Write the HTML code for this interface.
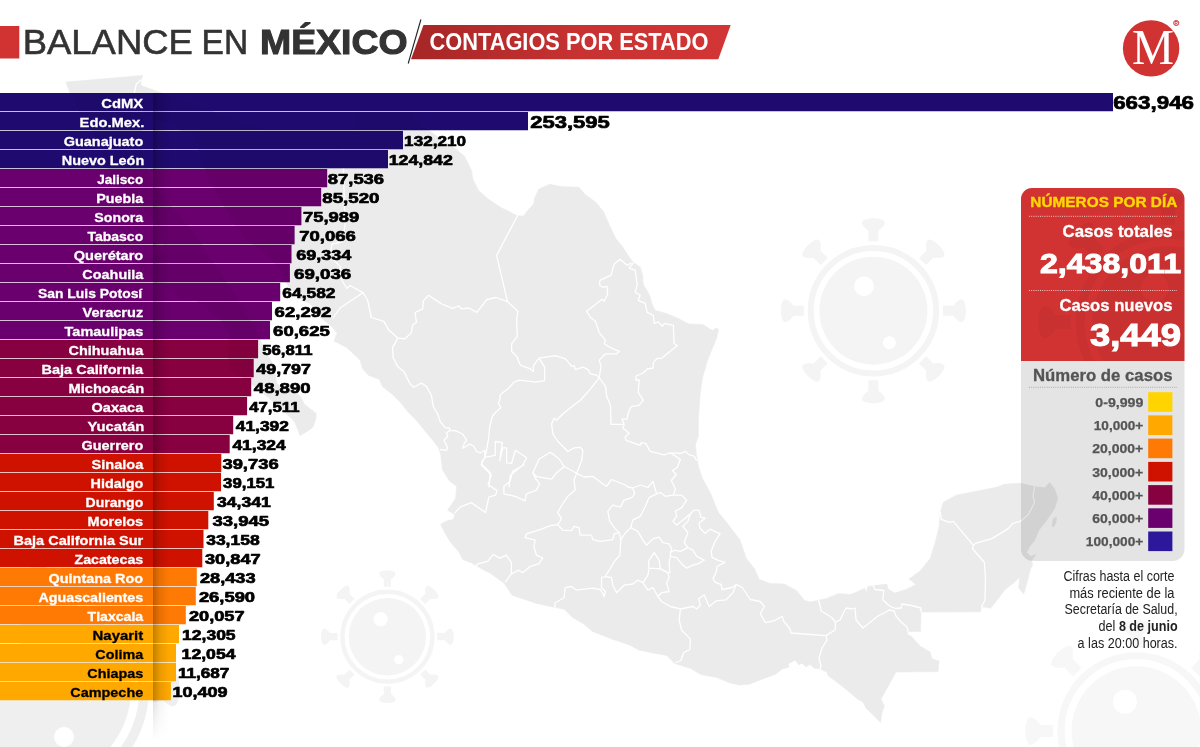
<!DOCTYPE html>
<html lang="es"><head><meta charset="utf-8"><title>Balance en México - Contagios por estado</title>
<style>html,body{margin:0;padding:0;background:#fff;}body{width:1200px;height:747px;overflow:hidden;}svg{display:block;}text{font-family:'Liberation Sans', Arial, sans-serif;}.lab{font-weight:700;font-size:13.6px;}.num{font-weight:700;font-size:15px;fill:#000;stroke:#000;stroke-width:.7px;stroke-linejoin:round;}</style></head><body>
<svg width="1200" height="747" viewBox="0 0 1200 747">
<defs>
<linearGradient id="gban" x1="0" x2="1" y1="0" y2="0"><stop offset="0" stop-color="#a62626"/><stop offset=".55" stop-color="#c93232"/><stop offset="1" stop-color="#d23535"/></linearGradient>
<linearGradient id="gsh" x1="0" x2="1" y1="0" y2="0"><stop offset="0" stop-color="#000" stop-opacity=".25"/><stop offset=".4" stop-color="#000" stop-opacity=".09"/><stop offset="1" stop-color="#000" stop-opacity="0"/></linearGradient>
<linearGradient id="gshv" x1="0" x2="0" y1="0" y2="1"><stop offset="0" stop-color="#fff"/><stop offset=".926" stop-color="#fff"/><stop offset=".927" stop-color="#777"/><stop offset=".985" stop-color="#000"/></linearGradient>
<mask id="mshv"><rect x="150" y="90" width="30" height="660" fill="url(#gshv)"/></mask>
<g id="virus">
<circle r="62.7" fill="none" stroke-width="6"/>
<g stroke="none">
<g transform="rotate(0)"><path d="M-5,-69.5 L-5,-80 C-8,-82 -11,-85 -11.5,-88 C-11.5,-91 -6,-92.5 0,-92.5 C6,-92.5 11.5,-91 11.5,-88 C11,-85 8,-82 5,-80 L5,-69.5 Z"/></g>
<g transform="rotate(45)"><path d="M-5,-69.5 L-5,-80 C-8,-82 -11,-85 -11.5,-88 C-11.5,-91 -6,-92.5 0,-92.5 C6,-92.5 11.5,-91 11.5,-88 C11,-85 8,-82 5,-80 L5,-69.5 Z"/></g>
<g transform="rotate(90)"><path d="M-5,-69.5 L-5,-80 C-8,-82 -11,-85 -11.5,-88 C-11.5,-91 -6,-92.5 0,-92.5 C6,-92.5 11.5,-91 11.5,-88 C11,-85 8,-82 5,-80 L5,-69.5 Z"/></g>
<g transform="rotate(135)"><path d="M-5,-69.5 L-5,-80 C-8,-82 -11,-85 -11.5,-88 C-11.5,-91 -6,-92.5 0,-92.5 C6,-92.5 11.5,-91 11.5,-88 C11,-85 8,-82 5,-80 L5,-69.5 Z"/></g>
<g transform="rotate(180)"><path d="M-5,-69.5 L-5,-80 C-8,-82 -11,-85 -11.5,-88 C-11.5,-91 -6,-92.5 0,-92.5 C6,-92.5 11.5,-91 11.5,-88 C11,-85 8,-82 5,-80 L5,-69.5 Z"/></g>
<g transform="rotate(225)"><path d="M-5,-69.5 L-5,-80 C-8,-82 -11,-85 -11.5,-88 C-11.5,-91 -6,-92.5 0,-92.5 C6,-92.5 11.5,-91 11.5,-88 C11,-85 8,-82 5,-80 L5,-69.5 Z"/></g>
<g transform="rotate(270)"><path d="M-5,-69.5 L-5,-80 C-8,-82 -11,-85 -11.5,-88 C-11.5,-91 -6,-92.5 0,-92.5 C6,-92.5 11.5,-91 11.5,-88 C11,-85 8,-82 5,-80 L5,-69.5 Z"/></g>
<g transform="rotate(315)"><path d="M-5,-69.5 L-5,-80 C-8,-82 -11,-85 -11.5,-88 C-11.5,-91 -6,-92.5 0,-92.5 C6,-92.5 11.5,-91 11.5,-88 C11,-85 8,-82 5,-80 L5,-69.5 Z"/></g>
<path fill-rule="evenodd" d="M0,-54 A54,54 0 1 1 0,54 A54,54 0 1 1 0,-54 Z M-9.4,-34.4 a10,10 0 1 0 0,20 a10,10 0 1 0 0,-20 Z M16,25.5 a6.5,6.5 0 1 0 0,13 a6.5,6.5 0 1 0 0,-13 Z"/>
</g></g>
</defs>
<g id="viruses">
<use href="#virus" transform="translate(873.4,310.7)" fill="#f4f4f4" stroke="#f4f4f4"/>
<use href="#virus" transform="translate(387.4,636.7) scale(.717)" fill="#f4f4f4" stroke="#f4f4f4"/>
<g transform="translate(39,689)" fill="#efefef" stroke="none"><circle r="105.2" fill="none" stroke="#efefef" stroke-width="9.5"/><path fill-rule="evenodd" d="M0,-92 A92,92 0 1 1 0,92 A92,92 0 1 1 0,-92 Z M25,38 a10,10 0 1 0 0,20 a10,10 0 1 0 0,-20 Z M-30,-70 a15,15 0 1 0 0,30 a15,15 0 1 0 0,-30 Z"/><g transform="rotate(0) scale(1.52)"><path d="M-5,-69.5 L-5,-80 C-8,-82 -11,-85 -11.5,-88 C-11.5,-91 -6,-92.5 0,-92.5 C6,-92.5 11.5,-91 11.5,-88 C11,-85 8,-82 5,-80 L5,-69.5 Z"/></g><g transform="rotate(45) scale(1.52)"><path d="M-5,-69.5 L-5,-80 C-8,-82 -11,-85 -11.5,-88 C-11.5,-91 -6,-92.5 0,-92.5 C6,-92.5 11.5,-91 11.5,-88 C11,-85 8,-82 5,-80 L5,-69.5 Z"/></g><g transform="rotate(90) scale(1.52)"><path d="M-5,-69.5 L-5,-80 C-8,-82 -11,-85 -11.5,-88 C-11.5,-91 -6,-92.5 0,-92.5 C6,-92.5 11.5,-91 11.5,-88 C11,-85 8,-82 5,-80 L5,-69.5 Z"/></g><g transform="rotate(135) scale(1.52)"><path d="M-5,-69.5 L-5,-80 C-8,-82 -11,-85 -11.5,-88 C-11.5,-91 -6,-92.5 0,-92.5 C6,-92.5 11.5,-91 11.5,-88 C11,-85 8,-82 5,-80 L5,-69.5 Z"/></g><g transform="rotate(180) scale(1.52)"><path d="M-5,-69.5 L-5,-80 C-8,-82 -11,-85 -11.5,-88 C-11.5,-91 -6,-92.5 0,-92.5 C6,-92.5 11.5,-91 11.5,-88 C11,-85 8,-82 5,-80 L5,-69.5 Z"/></g><g transform="rotate(225) scale(1.52)"><path d="M-5,-69.5 L-5,-80 C-8,-82 -11,-85 -11.5,-88 C-11.5,-91 -6,-92.5 0,-92.5 C6,-92.5 11.5,-91 11.5,-88 C11,-85 8,-82 5,-80 L5,-69.5 Z"/></g><g transform="rotate(270) scale(1.52)"><path d="M-5,-69.5 L-5,-80 C-8,-82 -11,-85 -11.5,-88 C-11.5,-91 -6,-92.5 0,-92.5 C6,-92.5 11.5,-91 11.5,-88 C11,-85 8,-82 5,-80 L5,-69.5 Z"/></g><g transform="rotate(315) scale(1.52)"><path d="M-5,-69.5 L-5,-80 C-8,-82 -11,-85 -11.5,-88 C-11.5,-91 -6,-92.5 0,-92.5 C6,-92.5 11.5,-91 11.5,-88 C11,-85 8,-82 5,-80 L5,-69.5 Z"/></g></g>
<use href="#virus" transform="translate(1136.3,731) scale(1.2)" fill="#f7f7f7" stroke="#f7f7f7"/>
</g>
<g id="map"><defs><path id="mapshape" d="M142.4,75.4 L141.0,80.0 L140.9,85.5 L263.2,129.7 L356.7,129.7 L356.7,112.6 L411.6,112.6 L422.4,125.2 L442.1,140.3 L453.3,147.0 L464.4,156.1 L471.4,170.2 L472.8,179.2 L478.4,190.3 L488.5,199.3 L500.5,207.3 L512.6,213.4 L517.6,215.8 L523.6,216.0 L528.6,209.3 L533.6,204.3 L534.6,198.3 L538.7,189.2 L549.7,184.2 L560.8,186.6 L578.8,187.2 L584.9,194.3 L595.9,202.3 L603.9,212.3 L609.0,224.4 L616.1,239.1 L622.1,246.1 L629.2,257.2 L633.2,262.2 L640.2,267.2 L642.6,275.2 L643.2,284.3 L649.2,294.3 L652.3,304.4 L655.3,310.4 L666.3,313.4 L678.4,318.4 L688.4,324.0 L702.5,324.4 L712.5,330.5 L716.5,327.9 L718.5,329.5 L716.5,338.5 L711.5,350.5 L707.5,360.6 L702.4,378.0 L700.4,392.1 L699.4,404.2 L698.4,420.3 L698.4,436.3 L695.4,444.4 L696.4,454.4 L698.4,466.4 L702.4,478.5 L710.0,492.0 L718.1,512.1 L727.2,523.2 L740.2,540.3 L746.2,558.3 L754.3,568.4 L759.3,579.4 L770.3,583.4 L784.4,584.0 L796.4,590.5 L804.5,600.5 L810.5,601.9 L826.6,598.5 L838.6,593.5 L850.7,594.5 L864.7,588.5 L866.7,592.5 L867.7,586.4 L886.8,584.0 L888.0,589.0 L894.9,593.0 L906.0,589.5 L916.0,584.4 L909.0,579.0 L920.0,571.0 L930.2,558.5 L935.2,542.4 L939.2,526.4 L940.3,512.3 L943.3,502.3 L956.3,495.2 L976.4,491.2 L996.5,487.2 L1004.5,484.2 L1020.6,483.2 L1034.6,486.6 L1044.7,487.8 L1049.7,482.6 L1054.7,489.2 L1057.7,498.2 L1054.7,508.3 L1046.7,520.3 L1038.7,530.4 L1034.6,540.4 L1029.6,546.4 L1026.6,552.5 L1030.6,556.5 L1035.7,554.5 L1031.6,560.5 L1032.6,565.5 L1030.7,568.0 L1026.7,584.1 L1023.7,594.1 L1018.7,588.1 L1019.7,577.1 L1014.7,582.1 L1004.6,590.1 L998.6,598.2 L990.5,608.2 L981.5,606.6 L980.5,611.8 L921.0,612.0 L920.6,631.4 L908.0,631.4 L907.0,634.0 L912.0,637.0 L920.0,646.0 L930.0,652.0 L932.0,659.0 L939.0,661.0 L938.0,671.6 L896.0,672.0 L881.0,699.0 L884.4,706.0 L881.6,714.0 L880.6,722.4 L866.0,708.0 L863.0,702.0 L858.0,699.4 L848.0,691.0 L838.0,683.0 L828.0,675.6 L827.0,672.0 L820.0,669.0 L814.0,668.0 L810.0,664.4 L806.0,667.0 L802.0,663.0 L799.0,665.0 L795.0,660.0 L791.0,662.4 L788.0,664.0 L789.0,667.0 L782.0,669.0 L776.0,674.0 L760.0,680.0 L750.0,684.0 L740.0,685.0 L730.0,683.0 L717.0,677.6 L700.9,674.6 L690.8,668.5 L674.8,663.5 L666.7,655.5 L650.7,652.5 L638.6,650.0 L630.6,645.4 L610.5,638.4 L592.4,631.4 L584.4,624.4 L572.3,617.3 L564.3,609.3 L554.3,607.3 L536.2,603.3 L512.1,595.2 L504.1,583.2 L490.0,573.1 L484.8,570.6 L470.7,562.5 L462.7,559.5 L458.7,551.5 L450.6,542.4 L444.6,532.4 L440.6,524.4 L445.6,521.3 L453.6,519.3 L454.6,514.3 L447.6,510.3 L451.6,504.3 L455.7,498.2 L456.7,486.2 L449.6,481.2 L442.6,470.1 L440.6,454.1 L438.6,448.0 L434.6,442.6 L424.6,430.5 L416.6,420.5 L408.5,412.5 L400.5,402.4 L392.5,394.4 L382.4,386.4 L379.4,379.3 L368.4,375.3 L362.3,368.3 L360.3,360.3 L346.3,347.2 L334.0,341.0 L337.2,333.1 L331.2,326.0 L317.8,315.4 L309.6,302.8 L303.1,301.0 L288.4,286.5 L278.6,268.3 L268.7,257.3 L245.9,239.0 L234.4,224.2 L226.2,209.5 L219.7,198.3 L209.9,183.4 L205.0,168.5 L198.4,149.7 L196.8,134.6 L182.1,130.9 L167.4,123.3 L142.8,113.8 L138.0,105.0 L134.0,95.0 L136.3,84.0 L141.0,80.0 Z M65.8,82.1 L142.4,75.4 L141.0,80.0 L136.3,84.0 L134.0,95.0 L138.0,105.0 L142.8,113.8 L139.6,142.2 L144.5,161.0 L154.3,187.2 L182.1,218.7 L196.8,235.3 L206.6,253.6 L224.6,279.2 L234.4,293.7 L254.0,326.2 L262.2,344.2 L273.6,365.6 L276.9,383.4 L286.7,390.5 L288.4,385.2 L299.8,395.8 L304.7,404.6 L316.2,413.5 L316.0,418.5 L313.0,427.0 L308.0,431.0 L300.0,435.6 L294.9,422.3 L290.0,417.0 L268.7,397.6 L245.9,379.8 L229.5,369.2 L227.9,351.3 L229.5,333.4 L219.7,319.0 L196.8,301.0 L180.5,299.2 L172.3,290.1 L157.6,284.6 L137.9,264.6 L133.0,259.1 L157.6,257.3 L164.1,250.0 L162.5,231.6 L144.5,209.5 L128.1,194.6 L111.8,183.4 L106.9,164.7 L100.3,146.0 L92.2,130.9 L80.7,113.8 L72.5,96.6 L70.0,93.0 Z M1053.5,518.0 L1056.5,517.5 L1056.0,522.0 L1053.8,526.5 L1052.0,526.5 Z"/></defs><use href="#mapshape" fill="#ebebeb" stroke="#ebebeb" stroke-width=".6" stroke-linejoin="round"/><path d="M631.2,263.2 L627.2,265.2 L620.1,259.2 L614.1,264.2 L611.1,275.2 L600.0,280.3 L599.6,285.3 L603.0,287.3 L607.0,286.3 L607.7,294.3 L604.0,301.3 L602.0,299.3 L586.7,311.3 L590.5,317.5 L595.5,321.3 L599.2,332.6 L605.5,340.1 L604.2,343.8 L610.5,347.6 L619.3,351.3 L616.7,353.8 L605.5,353.8 L599.2,360.1 L601.0,366.4 L599.2,377.6 M633.2,263.2 L629.2,268.2 L635.2,270.2 L637.2,284.3 L635.2,292.3 L640.2,295.3 L638.2,300.3 L645.2,303.4 L647.2,312.4 L653.3,315.4 L654.3,323.4 L658.3,322.0 L662.3,326.4 L664.3,323.4 L673.4,325.4 L674.0,343.5 L677.4,345.5 L661.3,358.6 L657.3,358.2 L653.3,362.6 L653.2,368.0 L647.2,369.0 L643.2,373.0 L636.2,376.0 L635.7,380.0 L639.2,380.0 L638.2,392.1 L643.2,400.2 L639.2,405.2 L631.1,406.6 L628.1,413.2 L627.1,419.2 L622.1,419.2 L624.1,424.3 M624.1,424.3 L623.1,428.3 L629.1,433.3 L625.1,437.3 L626.1,440.3 L640.2,445.4 L641.2,442.7 L645.8,443.4 L650.2,451.4 L664.3,454.8 L670.3,452.8 L681.3,453.4 L685.4,451.4 L688.4,454.4 L694.4,456.4 L696.4,460.4 M517.6,215.5 L496.6,255.4 L507.5,301.7 M397.6,338.1 L405.1,338.8 L411.4,332.6 L412.6,325.0 L416.4,322.5 L415.1,312.5 L422.7,308.8 L423.4,300.6 L428.5,295.3 L436.5,300.6 L441.4,303.8 L452.7,308.3 L459.0,306.0 L461.5,308.8 L469.0,308.0 L476.8,312.4 L486.9,299.5 L496.0,297.5 L507.5,301.7 M507.5,301.7 L517.8,311.3 L516.6,320.0 L517.3,336.3 L511.6,343.8 L511.6,351.3 L516.6,356.3 L520.3,365.1 L530.4,368.9 L533.4,371.4 L533.4,365.6 L539.1,358.1 M539.1,358.1 L555.4,355.6 L565.4,358.9 L571.7,366.4 L574.2,365.6 L575.4,369.6 L583.0,367.1 L588.0,369.6 L590.5,373.9 L596.7,375.1 L599.2,377.6 M599.2,377.6 L605.5,386.4 L606.7,396.4 L610.5,405.2 L611.0,424.3 L624.1,424.3 M599.2,377.6 L590.5,388.9 L580.4,400.2 L570.4,407.7 L564.2,412.7 L556.6,420.2 L554.1,418.2 L551.6,424.0 L552.9,434.0 L557.9,441.5 L564.2,447.8 L567.9,451.5 L574.2,447.8 L580.4,447.3 L582.9,450.3 L581.7,460.3 L577.9,470.3 L576.7,473.3 M539.1,358.1 L544.6,367.1 L544.6,380.6 L535.4,382.1 L519.1,380.1 L514.1,382.1 L509.1,387.7 L500.3,394.7 L499.8,400.2 L498.3,402.7 L500.8,407.7 L496.5,411.4 L492.3,416.5 L489.8,426.5 L488.3,440.2 L486.5,450.3 L484.8,457.3 M343.0,150.0 L344.0,190.0 L345.0,226.0 L342.0,242.0 L332.0,244.0 L330.0,256.0 L340.0,266.4 L342.0,280.5 L347.0,288.5 L350.0,285.5 L363.0,292.6 M363.0,292.6 L352.0,300.0 L340.0,308.0 L333.0,318.0 M363.0,292.6 L367.6,300.0 L371.3,317.5 L383.8,321.3 L388.9,330.1 L397.6,338.1 M397.6,338.1 L392.6,347.6 L393.1,357.6 L397.6,366.4 L403.9,371.4 L410.1,383.9 L413.9,387.2 L421.4,383.1 L426.4,386.4 L431.4,395.2 L433.2,406.4 L437.7,414.0 L440.2,421.5 L445.2,427.7 L449.7,428.2 L449.7,430.7 M449.7,430.7 L446.5,432.7 L447.7,436.5 L444.0,440.2 L447.7,447.8 L446.5,450.3 L440.2,449.5 M449.7,430.7 L455.2,430.7 L462.7,434.0 L466.5,440.2 L464.0,444.0 L462.7,448.3 L470.2,444.0 L474.0,446.5 L476.5,451.5 L480.3,452.8 L484.8,450.3 L484.8,457.3 M484.8,457.3 L481.5,464.0 L490.3,472.8 L489.0,487.0 M484.8,457.3 L495.3,455.3 L495.3,441.5 L502.3,442.7 L499.8,460.3 L502.8,447.8 L506.6,447.8 L506.6,462.8 L511.6,463.3 L515.3,450.3 L526.6,457.8 L522.8,465.3 L510.3,475.3 L509.1,487.0 M532.9,472.8 L539.1,459.0 L550.4,452.3 L559.2,459.0 L564.2,466.5 L556.6,472.8 L551.6,479.1 L536.6,476.6 L532.9,472.8 M564.2,466.5 L576.7,473.3 M482.6,460.0 L481.3,465.0 L491.3,475.0 L488.1,484.5 L497.1,490.6 L495.6,495.1 L488.8,497.1 L485.6,512.6 L471.3,502.6 L460.0,507.1 L455.0,512.6 M523.9,465.0 L512.6,471.3 L510.1,481.3 L503.9,486.3 L503.9,493.8 L515.1,496.3 L525.1,500.8 L526.4,493.8 L536.4,490.1 L539.7,483.8 L535.2,478.0 L532.9,472.8 M576.7,473.3 L574.0,480.0 L575.2,490.1 L567.7,496.3 L562.7,503.8 L557.7,512.6 L561.5,518.9 L557.7,524.6 M576.7,473.3 L584.0,477.0 L592.8,476.3 L600.3,482.0 L606.5,486.3 L611.5,479.5 L625.3,485.0 L627.8,487.0 L632.8,488.0 M632.8,488.0 L634.8,493.8 L631.6,497.6 L624.1,500.1 L620.3,507.1 L612.8,505.1 L607.8,511.3 L609.8,521.4 L615.3,528.9 L619.1,532.6 M557.7,524.6 L562.7,530.1 L571.5,530.6 L574.0,526.4 L579.0,527.6 L580.2,535.1 L591.5,535.1 L592.8,539.6 L600.3,541.4 L612.8,539.6 L614.1,533.9 L619.1,532.6 M632.8,488.0 L640.3,485.0 L647.9,487.5 L652.9,481.3 L656.6,493.8 M656.6,493.8 L649.1,497.6 L645.4,506.3 L640.3,516.3 L632.8,520.1 L630.8,527.6 M630.8,527.6 L625.3,533.0 L620.8,539.6 L619.1,532.6 M620.8,539.6 L619.8,555.2 L615.3,560.2 L605.3,576.5 M670.3,452.8 L680.3,459.4 L677.3,467.5 L672.3,470.5 L676.3,474.5 L671.3,480.5 L675.4,488.8 L673.4,495.1 M656.6,493.8 L660.4,492.6 L665.4,496.3 L672.9,495.1 L673.4,495.1 M673.4,495.1 L681.7,495.1 L686.7,500.1 L681.7,507.6 L675.4,511.3 L676.7,516.3 L672.9,521.4 L676.7,525.1 L684.2,518.9 L690.4,513.8 L694.0,510.1 L699.0,510.1 L701.0,517.2 L705.1,518.2 L699.0,523.2 L700.0,528.2 L705.1,533.2 L710.1,529.2 L720.1,533.8 L715.1,541.3 L711.1,551.3 L712.1,557.3 L718.1,560.3 L725.1,562.3 L717.1,566.4 L716.1,572.4 L713.1,578.4 L715.1,582.4 L721.1,584.4 L722.1,589.5 L732.2,587.5 L736.2,584.4 M690.4,513.8 L687.9,521.4 L682.9,526.4 L687.9,532.6 L684.2,542.6 L687.9,547.7 M670.4,552.7 L674.2,550.2 L680.4,551.4 L687.9,547.7 L692.9,550.2 L696.7,556.4 L704.2,560.2 L697.9,563.9 L692.9,565.2 L686.7,568.2 L681.7,563.9 L676.7,557.7 L670.4,556.4 L670.4,552.7 M630.8,527.6 L637.8,531.4 L642.9,540.1 L646.6,545.2 L652.9,538.9 L659.1,537.1 L662.9,542.6 L669.1,543.9 L671.7,548.9 L670.4,552.7 M654.1,552.7 L659.1,560.2 L660.4,568.9 L649.1,568.2 L648.4,561.4 L654.1,552.7 M649.1,568.2 L647.9,575.2 L642.9,582.7 L647.9,590.2 L652.9,587.7 L656.6,594.0 L657.9,596.5 M660.4,568.9 L667.9,572.7 L669.1,577.7 L666.6,582.7 L669.1,591.5 L661.6,592.7 L657.9,596.5 M670.4,556.4 L669.1,562.7 L669.9,572.7 L667.9,572.7 M605.3,576.5 L611.5,577.7 L612.8,585.2 L616.6,592.7 L624.1,585.2 L632.8,584.0 L637.8,580.2 L642.9,582.7 M605.3,576.5 L601.5,577.7 L601.5,587.7 L605.3,591.5 L604.0,596.5 L602.3,592.7 L600.3,589.7 L592.8,588.2 L576.5,590.2 L571.5,586.5 L565.2,587.7 L564.0,597.7 L555.2,602.7 L554.7,607.8 M557.7,524.6 L550.2,525.6 L540.2,529.6 L526.4,533.9 L525.1,537.6 L535.2,540.1 L533.9,546.4 L536.4,555.2 L542.7,558.2 L538.9,563.9 L530.2,566.4 L522.6,572.7 L518.9,570.2 L511.4,573.9 L505.6,581.5 M511.4,573.9 L511.4,562.7 L506.4,555.2 L500.1,558.2 L493.1,554.7 L487.6,561.4 L477.6,563.9 L476.3,566.4 M657.9,596.5 L661.6,601.5 L670.4,606.5 L680.4,609.0 M680.4,609.0 L679.2,620.3 L681.7,630.3 L690.4,639.1 L689.8,649.5 L683.8,652.5 L680.8,660.5 L675.8,662.5 M680.4,609.0 L692.9,606.5 L696.7,609.0 L700.4,605.3 L698.5,598.8 L704.2,595.0 L709.2,606.5 L716.0,600.8 L726.0,599.8 L733.0,592.6 L736.2,584.4 M736.2,584.4 L742.2,587.5 L750.3,599.5 L760.3,601.5 L764.3,606.5 L760.3,613.6 L765.3,622.6 L774.4,620.6 L782.2,616.3 L783.2,620.3 L790.0,629.0 L791.0,633.0 L826.0,635.6 M826.0,635.6 L827.0,640.0 L822.0,648.0 L819.0,658.0 L821.0,666.0 L820.0,669.0 M826.0,635.6 L835.0,630.0 L835.6,622.0 L831.0,617.0 L821.5,611.3 L818.7,600.5 M835.6,622.0 L840.0,620.0 L846.0,608.0 L852.0,609.0 L855.0,608.0 L856.0,620.0 L863.0,628.0 L878.0,616.0 L886.0,612.0 L889.0,610.0 L894.0,611.0 L896.0,616.0 L901.0,622.0 L907.0,627.0 L908.0,631.4 M872.8,584.4 L874.8,589.5 L883.8,590.5 L882.8,599.5 L888.8,605.5 L894.9,608.5 L901.0,608.0 L902.0,604.0 L911.5,605.5 L921.0,608.0 L921.0,612.0 M940.3,512.3 L941.3,519.3 L949.3,522.3 L953.3,521.3 L973.4,545.4 M973.4,545.4 L975.4,543.4 L992.5,538.4 L1008.5,528.4 L1012.6,523.3 L1020.6,521.3 L1028.6,514.3 L1034.6,502.3 L1033.0,496.2 L1034.6,486.6 M973.4,545.4 L972.4,548.5 L984.4,562.5 L985.5,580.1 L984.9,600.2 L981.5,606.6 M141.0,80.0 L136.3,84.0 L134.0,95.0 L138.0,105.0 L142.8,113.8" fill="none" stroke="#fff" stroke-width="1.3" stroke-linejoin="round" stroke-linecap="round"/></g>
<rect x="0" y="26" width="19.3" height="32.5" fill="#d13232"/>
<text y="54" style="font-size:35.8px" fill="#333"><tspan x="22.8" textLength="170" lengthAdjust="spacingAndGlyphs" stroke="#333" stroke-width=".6">BALANCE</tspan><tspan x="201.6" textLength="46.6" lengthAdjust="spacingAndGlyphs" stroke="#333" stroke-width=".6">EN</tspan><tspan x="260" textLength="147.6" lengthAdjust="spacingAndGlyphs" font-weight="700" stroke="#333" stroke-width="1.1">MÉXICO</tspan></text>
<polygon points="423.5,25 730.7,25 718.3,59.3 411,59.3" fill="url(#gban)"/>
<line x1="420.9" y1="19.5" x2="408.2" y2="63.5" stroke="#222" stroke-width="1.1"/>
<text x="429.5" y="50" font-size="23" font-weight="700" fill="#fff" textLength="279" lengthAdjust="spacingAndGlyphs">CONTAGIOS POR ESTADO</text>
<circle cx="1151.1" cy="48.4" r="28.2" fill="#d13232"/>
<text x="1153.1" y="64" style="font-family:'Liberation Serif','DejaVu Serif',serif;font-size:50.6px" fill="#fff" text-anchor="middle" textLength="42" lengthAdjust="spacingAndGlyphs">M</text>
<circle cx="1176.2" cy="23" r="2.6" fill="none" stroke="#d13232" stroke-width=".9"/>
<text x="1176.2" y="24.7" font-size="4.6" font-weight="700" fill="#d13232" text-anchor="middle">R</text>
<g id="bars">
<rect x="0" y="93" width="1113.0" height="18.25" fill="#1f0b6f"/>
<rect x="0" y="112" width="528.0" height="18.25" fill="#1f0b6f"/>
<rect x="0" y="131" width="403.0" height="18.25" fill="#1f0b6f"/>
<rect x="0" y="150" width="388.0" height="18.25" fill="#1f0b6f"/>
<rect x="0" y="169" width="327.2" height="18.25" fill="#69006d"/>
<rect x="0" y="188" width="321.2" height="18.25" fill="#69006d"/>
<rect x="0" y="207" width="301.4" height="18.25" fill="#69006d"/>
<rect x="0" y="226" width="294.6" height="18.25" fill="#69006d"/>
<rect x="0" y="245" width="291.5" height="18.25" fill="#69006d"/>
<rect x="0" y="264" width="289.9" height="18.25" fill="#69006d"/>
<rect x="0" y="283" width="280.2" height="18.25" fill="#69006d"/>
<rect x="0" y="302" width="272.0" height="18.25" fill="#69006d"/>
<rect x="0" y="321" width="270.0" height="18.25" fill="#69006d"/>
<rect x="0" y="340" width="258.1" height="18.25" fill="#870040"/>
<rect x="0" y="359" width="253.7" height="18.25" fill="#870040"/>
<rect x="0" y="378" width="251.2" height="18.25" fill="#870040"/>
<rect x="0" y="397" width="247.1" height="18.25" fill="#870040"/>
<rect x="0" y="416" width="233.2" height="18.25" fill="#870040"/>
<rect x="0" y="435" width="229.7" height="18.25" fill="#870040"/>
<rect x="0" y="454" width="221.3" height="18.25" fill="#cf1200"/>
<rect x="0" y="473" width="221.0" height="18.25" fill="#cf1200"/>
<rect x="0" y="492" width="213.8" height="18.25" fill="#cf1200"/>
<rect x="0" y="511" width="208.3" height="18.25" fill="#cf1200"/>
<rect x="0" y="530" width="203.5" height="18.25" fill="#cf1200"/>
<rect x="0" y="549" width="202.3" height="18.25" fill="#cf1200"/>
<rect x="0" y="568" width="196.8" height="18.25" fill="#ff7a05"/>
<rect x="0" y="587" width="195.8" height="18.25" fill="#ff7a05"/>
<rect x="0" y="606" width="185.8" height="18.25" fill="#ff7a05"/>
<rect x="0" y="625" width="179.0" height="18.25" fill="#ffa800"/>
<rect x="0" y="644" width="176.0" height="18.25" fill="#ffa800"/>
<rect x="0" y="663" width="176.0" height="18.25" fill="#ffa800"/>
<rect x="0" y="682" width="170.9" height="18.25" fill="#ffa800"/>
</g>
<clipPath id="cpbars">
<rect x="0" y="93" width="1113.0" height="18.25"/>
<rect x="0" y="112" width="528.0" height="18.25"/>
<rect x="0" y="131" width="403.0" height="18.25"/>
<rect x="0" y="150" width="388.0" height="18.25"/>
<rect x="0" y="169" width="327.2" height="18.25"/>
<rect x="0" y="188" width="321.2" height="18.25"/>
<rect x="0" y="207" width="301.4" height="18.25"/>
<rect x="0" y="226" width="294.6" height="18.25"/>
<rect x="0" y="245" width="291.5" height="18.25"/>
<rect x="0" y="264" width="289.9" height="18.25"/>
<rect x="0" y="283" width="280.2" height="18.25"/>
<rect x="0" y="302" width="272.0" height="18.25"/>
<rect x="0" y="321" width="270.0" height="18.25"/>
<rect x="0" y="340" width="258.1" height="18.25"/>
<rect x="0" y="359" width="253.7" height="18.25"/>
<rect x="0" y="378" width="251.2" height="18.25"/>
<rect x="0" y="397" width="247.1" height="18.25"/>
<rect x="0" y="416" width="233.2" height="18.25"/>
<rect x="0" y="435" width="229.7" height="18.25"/>
<rect x="0" y="454" width="221.3" height="18.25"/>
<rect x="0" y="473" width="221.0" height="18.25"/>
<rect x="0" y="492" width="213.8" height="18.25"/>
<rect x="0" y="511" width="208.3" height="18.25"/>
<rect x="0" y="530" width="203.5" height="18.25"/>
<rect x="0" y="549" width="202.3" height="18.25"/>
<rect x="0" y="568" width="196.8" height="18.25"/>
<rect x="0" y="587" width="195.8" height="18.25"/>
<rect x="0" y="606" width="185.8" height="18.25"/>
<rect x="0" y="625" width="179.0" height="18.25"/>
<rect x="0" y="644" width="176.0" height="18.25"/>
<rect x="0" y="663" width="176.0" height="18.25"/>
<rect x="0" y="682" width="170.9" height="18.25"/>
</clipPath>
<g clip-path="url(#cpbars)"><use href="#mapshape" fill="#000" opacity=".035"/></g>
<rect x="153" y="93" width="16" height="650" fill="url(#gsh)" mask="url(#mshv)"/>
<g id="labels">
<text class="lab" x="101.29" y="107.6" fill="#fff" stroke="#fff" stroke-width=".3" textLength="41.92" lengthAdjust="spacingAndGlyphs">CdMX</text>
<text class="lab" x="79.58" y="126.6" fill="#fff" stroke="#fff" stroke-width=".3" textLength="64.65" lengthAdjust="spacingAndGlyphs">Edo.Mex.</text>
<text class="lab" x="63.69" y="145.6" fill="#fff" stroke="#fff" stroke-width=".3" textLength="79.53" lengthAdjust="spacingAndGlyphs">Guanajuato</text>
<text class="lab" x="61.80" y="164.6" fill="#fff" stroke="#fff" stroke-width=".3" textLength="82.42" lengthAdjust="spacingAndGlyphs">Nuevo León</text>
<text class="lab" x="97.17" y="183.6" fill="#fff" stroke="#fff" stroke-width=".3" textLength="46.05" lengthAdjust="spacingAndGlyphs">Jalisco</text>
<text class="lab" x="96.29" y="202.6" fill="#fff" stroke="#fff" stroke-width=".3" textLength="46.92" lengthAdjust="spacingAndGlyphs">Puebla</text>
<text class="lab" x="94.38" y="221.6" fill="#fff" stroke="#fff" stroke-width=".3" textLength="48.81" lengthAdjust="spacingAndGlyphs">Sonora</text>
<text class="lab" x="87.47" y="240.6" fill="#fff" stroke="#fff" stroke-width=".3" textLength="55.74" lengthAdjust="spacingAndGlyphs">Tabasco</text>
<text class="lab" x="73.69" y="259.6" fill="#fff" stroke="#fff" stroke-width=".3" textLength="69.53" lengthAdjust="spacingAndGlyphs">Querétaro</text>
<text class="lab" x="82.39" y="278.6" fill="#fff" stroke="#fff" stroke-width=".3" textLength="60.83" lengthAdjust="spacingAndGlyphs">Coahuila</text>
<text class="lab" x="38.00" y="297.6" fill="#fff" stroke="#fff" stroke-width=".3" textLength="104.22" lengthAdjust="spacingAndGlyphs">San Luis Potosí</text>
<text class="lab" x="82.49" y="316.6" fill="#fff" stroke="#fff" stroke-width=".3" textLength="60.74" lengthAdjust="spacingAndGlyphs">Veracruz</text>
<text class="lab" x="64.57" y="335.6" fill="#fff" stroke="#fff" stroke-width=".3" textLength="78.65" lengthAdjust="spacingAndGlyphs">Tamaulipas</text>
<text class="lab" x="68.50" y="354.6" fill="#fff" stroke="#fff" stroke-width=".3" textLength="74.70" lengthAdjust="spacingAndGlyphs">Chihuahua</text>
<text class="lab" x="41.50" y="373.6" fill="#fff" stroke="#fff" stroke-width=".3" textLength="101.70" lengthAdjust="spacingAndGlyphs">Baja California</text>
<text class="lab" x="68.50" y="392.6" fill="#fff" stroke="#fff" stroke-width=".3" textLength="75.72" lengthAdjust="spacingAndGlyphs">Michoacán</text>
<text class="lab" x="91.53" y="411.6" fill="#fff" stroke="#fff" stroke-width=".3" textLength="51.71" lengthAdjust="spacingAndGlyphs">Oaxaca</text>
<text class="lab" x="87.52" y="430.6" fill="#fff" stroke="#fff" stroke-width=".3" textLength="56.72" lengthAdjust="spacingAndGlyphs">Yucatán</text>
<text class="lab" x="81.50" y="449.6" fill="#fff" stroke="#fff" stroke-width=".3" textLength="61.71" lengthAdjust="spacingAndGlyphs">Guerrero</text>
<text class="lab" x="91.53" y="468.6" fill="#fff" stroke="#fff" stroke-width=".3" textLength="51.71" lengthAdjust="spacingAndGlyphs">Sinaloa</text>
<text class="lab" x="90.53" y="487.6" fill="#fff" stroke="#fff" stroke-width=".3" textLength="52.72" lengthAdjust="spacingAndGlyphs">Hidalgo</text>
<text class="lab" x="85.52" y="506.6" fill="#fff" stroke="#fff" stroke-width=".3" textLength="57.71" lengthAdjust="spacingAndGlyphs">Durango</text>
<text class="lab" x="87.59" y="525.6" fill="#fff" stroke="#fff" stroke-width=".3" textLength="55.61" lengthAdjust="spacingAndGlyphs">Morelos</text>
<text class="lab" x="13.59" y="544.6" fill="#fff" stroke="#fff" stroke-width=".3" textLength="129.60" lengthAdjust="spacingAndGlyphs">Baja California Sur</text>
<text class="lab" x="74.49" y="563.6" fill="#fff" stroke="#fff" stroke-width=".3" textLength="68.74" lengthAdjust="spacingAndGlyphs">Zacatecas</text>
<text class="lab" x="48.50" y="582.6" fill="#fff" stroke="#fff" stroke-width=".3" textLength="94.70" lengthAdjust="spacingAndGlyphs">Quintana Roo</text>
<text class="lab" x="38.59" y="601.6" fill="#fff" stroke="#fff" stroke-width=".3" textLength="104.61" lengthAdjust="spacingAndGlyphs">Aguascalientes</text>
<text class="lab" x="87.56" y="620.6" fill="#fff" stroke="#fff" stroke-width=".3" textLength="55.65" lengthAdjust="spacingAndGlyphs">Tlaxcala</text>
<text class="lab" x="92.59" y="639.6" fill="#000" stroke="#000" stroke-width=".3" textLength="50.62" lengthAdjust="spacingAndGlyphs">Nayarit</text>
<text class="lab" x="95.38" y="658.6" fill="#000" stroke="#000" stroke-width=".3" textLength="47.81" lengthAdjust="spacingAndGlyphs">Colima</text>
<text class="lab" x="87.38" y="677.6" fill="#000" stroke="#000" stroke-width=".3" textLength="55.84" lengthAdjust="spacingAndGlyphs">Chiapas</text>
<text class="lab" x="70.39" y="696.6" fill="#000" stroke="#000" stroke-width=".3" textLength="72.82" lengthAdjust="spacingAndGlyphs">Campeche</text>
</g>
<g id="nums">
<text class="num" x="1113.18" y="109.0" style="font-size:18.6px" textLength="80.9" lengthAdjust="spacingAndGlyphs">663,946</text>
<text class="num" x="530.20" y="128.2" style="font-size:17.1px" textLength="79.7" lengthAdjust="spacingAndGlyphs">253,595</text>
<text class="num" x="404.12" y="146.4" style="font-size:15.3px" textLength="61.9" lengthAdjust="spacingAndGlyphs">132,210</text>
<text class="num" x="388.68" y="165.4" style="font-size:15.3px" textLength="64.1" lengthAdjust="spacingAndGlyphs">124,842</text>
<text class="num" x="327.85" y="184.2" style="font-size:14.7px" textLength="56.2" lengthAdjust="spacingAndGlyphs">87,536</text>
<text class="num" x="322.34" y="203.2" style="font-size:14.7px" textLength="57.2" lengthAdjust="spacingAndGlyphs">85,520</text>
<text class="num" x="303.07" y="222.2" style="font-size:14.7px" textLength="56.1" lengthAdjust="spacingAndGlyphs">75,989</text>
<text class="num" x="299.30" y="241.2" style="font-size:14.7px" textLength="56.6" lengthAdjust="spacingAndGlyphs">70,066</text>
<text class="num" x="296.17" y="260.1" style="font-size:14.7px" textLength="55.1" lengthAdjust="spacingAndGlyphs">69,334</text>
<text class="num" x="294.03" y="279.1" style="font-size:14.7px" textLength="57.2" lengthAdjust="spacingAndGlyphs">69,036</text>
<text class="num" x="282.39" y="298.1" style="font-size:14.7px" textLength="53.1" lengthAdjust="spacingAndGlyphs">64,582</text>
<text class="num" x="274.63" y="317.1" style="font-size:14.7px" textLength="56.7" lengthAdjust="spacingAndGlyphs">62,292</text>
<text class="num" x="273.11" y="336.1" style="font-size:14.7px" textLength="56.7" lengthAdjust="spacingAndGlyphs">60,625</text>
<text class="num" x="262.20" y="355.1" style="font-size:14.7px" textLength="50.3" lengthAdjust="spacingAndGlyphs">56,811</text>
<text class="num" x="256.38" y="374.1" style="font-size:14.7px" textLength="54.6" lengthAdjust="spacingAndGlyphs">49,797</text>
<text class="num" x="253.84" y="393.1" style="font-size:14.7px" textLength="56.7" lengthAdjust="spacingAndGlyphs">48,890</text>
<text class="num" x="249.25" y="412.1" style="font-size:14.7px" textLength="50.3" lengthAdjust="spacingAndGlyphs">47,511</text>
<text class="num" x="235.84" y="431.1" style="font-size:14.7px" textLength="53.0" lengthAdjust="spacingAndGlyphs">41,392</text>
<text class="num" x="232.41" y="450.1" style="font-size:14.7px" textLength="53.4" lengthAdjust="spacingAndGlyphs">41,324</text>
<text class="num" x="222.43" y="469.1" style="font-size:14.7px" textLength="56.2" lengthAdjust="spacingAndGlyphs">39,736</text>
<text class="num" x="223.10" y="488.1" style="font-size:14.7px" textLength="51.3" lengthAdjust="spacingAndGlyphs">39,151</text>
<text class="num" x="216.95" y="507.1" style="font-size:14.7px" textLength="53.9" lengthAdjust="spacingAndGlyphs">34,341</text>
<text class="num" x="212.44" y="526.1" style="font-size:14.7px" textLength="56.7" lengthAdjust="spacingAndGlyphs">33,945</text>
<text class="num" x="206.18" y="545.1" style="font-size:14.7px" textLength="53.5" lengthAdjust="spacingAndGlyphs">33,158</text>
<text class="num" x="204.99" y="564.1" style="font-size:14.7px" textLength="55.7" lengthAdjust="spacingAndGlyphs">30,847</text>
<text class="num" x="199.94" y="583.1" style="font-size:14.7px" textLength="55.7" lengthAdjust="spacingAndGlyphs">28,433</text>
<text class="num" x="198.92" y="602.1" style="font-size:14.7px" textLength="56.2" lengthAdjust="spacingAndGlyphs">26,590</text>
<text class="num" x="188.95" y="621.1" style="font-size:14.7px" textLength="55.7" lengthAdjust="spacingAndGlyphs">20,057</text>
<text class="num" x="182.12" y="640.1" style="font-size:14.7px" textLength="53.5" lengthAdjust="spacingAndGlyphs">12,305</text>
<text class="num" x="181.60" y="659.1" style="font-size:14.7px" textLength="53.9" lengthAdjust="spacingAndGlyphs">12,054</text>
<text class="num" x="178.07" y="678.1" style="font-size:14.7px" textLength="51.3" lengthAdjust="spacingAndGlyphs">11,687</text>
<text class="num" x="172.48" y="697.1" style="font-size:14.7px" textLength="55.0" lengthAdjust="spacingAndGlyphs">10,409</text>
</g>
<path d="M1021,361 V199 a11,11 0 0 1 11,-11 H1173.5 a11,11 0 0 1 11,11 V361 Z" fill="#d13232"/>
<clipPath id="cpred"><path d="M1021,361 V199 a11,11 0 0 1 11,-11 H1173.5 a11,11 0 0 1 11,11 V361 Z"/></clipPath>
<g clip-path="url(#cpred)"><use href="#virus" transform="translate(1168,322) scale(1.4)" fill="#000" stroke="#000" opacity=".035"/></g>
<path d="M1021,361 H1184.5 V549 a12,12 0 0 1 -12,12 H1033 a12,12 0 0 1 -12,-12 Z" fill="#000" fill-opacity=".105"/>
<text x="1030.3" y="207.2" font-size="14.6" font-weight="700" fill="#ffd800" stroke="#ffd800" stroke-width=".35" textLength="147" lengthAdjust="spacingAndGlyphs">NÚMEROS POR DÍA</text>
<line x1="1029" y1="216.3" x2="1177" y2="216.3" stroke="#f4c8c8" stroke-width="1" stroke-dasharray="1,1.2"/>
<text x="1172.5" y="237.2" font-size="16.2" font-weight="700" fill="#fff" stroke="#fff" stroke-width=".3" text-anchor="end" textLength="110" lengthAdjust="spacingAndGlyphs">Casos totales</text>
<text x="1181" y="273.2" font-size="27.5" font-weight="700" fill="#fff" stroke="#fff" stroke-width="1" text-anchor="end" textLength="141" lengthAdjust="spacingAndGlyphs">2,438,011</text>
<line x1="1029" y1="290.5" x2="1177" y2="290.5" stroke="#f4c8c8" stroke-width="1" stroke-dasharray="1,1.2"/>
<text x="1172.5" y="311.2" font-size="16.2" font-weight="700" fill="#fff" stroke="#fff" stroke-width=".3" text-anchor="end" textLength="113" lengthAdjust="spacingAndGlyphs">Casos nuevos</text>
<text x="1181" y="345.6" font-size="31" font-weight="700" fill="#fff" stroke="#fff" stroke-width="1.1" text-anchor="end" textLength="91" lengthAdjust="spacingAndGlyphs">3,449</text>
<text x="1033" y="381" font-size="16" font-weight="700" fill="#555" stroke="#555" stroke-width=".3" textLength="139.5" lengthAdjust="spacingAndGlyphs">Número de casos</text>
<line x1="1029" y1="387.3" x2="1177" y2="387.3" stroke="#aaa" stroke-width="1" stroke-dasharray="1,1.2"/>
<rect x="1148.2" y="392.2" width="24.2" height="19.6" fill="#ffd400"/>
<text x="1143.3" y="407.0" font-size="12.8" font-weight="700" fill="#555" stroke="#555" stroke-width=".25" text-anchor="end" textLength="48.0" lengthAdjust="spacingAndGlyphs">0-9,999</text>
<rect x="1148.2" y="415.4" width="24.2" height="19.6" fill="#ffa800"/>
<text x="1143.3" y="430.2" font-size="12.8" font-weight="700" fill="#555" stroke="#555" stroke-width=".25" text-anchor="end" textLength="49.5" lengthAdjust="spacingAndGlyphs">10,000+</text>
<rect x="1148.2" y="438.6" width="24.2" height="19.6" fill="#ff7a05"/>
<text x="1143.3" y="453.4" font-size="12.8" font-weight="700" fill="#555" stroke="#555" stroke-width=".25" text-anchor="end" textLength="51.0" lengthAdjust="spacingAndGlyphs">20,000+</text>
<rect x="1148.2" y="461.9" width="24.2" height="19.6" fill="#cf1200"/>
<text x="1143.3" y="476.7" font-size="12.8" font-weight="700" fill="#555" stroke="#555" stroke-width=".25" text-anchor="end" textLength="51.0" lengthAdjust="spacingAndGlyphs">30,000+</text>
<rect x="1148.2" y="485.1" width="24.2" height="19.6" fill="#870040"/>
<text x="1143.3" y="499.9" font-size="12.8" font-weight="700" fill="#555" stroke="#555" stroke-width=".25" text-anchor="end" textLength="51.0" lengthAdjust="spacingAndGlyphs">40,000+</text>
<rect x="1148.2" y="508.3" width="24.2" height="19.6" fill="#69006d"/>
<text x="1143.3" y="523.1" font-size="12.8" font-weight="700" fill="#555" stroke="#555" stroke-width=".25" text-anchor="end" textLength="51.0" lengthAdjust="spacingAndGlyphs">60,000+</text>
<rect x="1148.2" y="531.5" width="24.2" height="19.6" fill="#2d179b"/>
<text x="1143.3" y="546.3" font-size="12.8" font-weight="700" fill="#555" stroke="#555" stroke-width=".25" text-anchor="end" textLength="57.5" lengthAdjust="spacingAndGlyphs">100,000+</text>
<text x="1174.4" y="581.0" font-size="14" fill="#222" text-anchor="end" textLength="111" lengthAdjust="spacingAndGlyphs">Cifras hasta el corte</text>
<text x="1174.4" y="597.6" font-size="14" fill="#222" text-anchor="end" textLength="105" lengthAdjust="spacingAndGlyphs">más reciente de la</text>
<text x="1177.6" y="614.2" font-size="14" fill="#222" text-anchor="end" textLength="113" lengthAdjust="spacingAndGlyphs">Secretaría de Salud,</text>
<text x="1177.6" y="630.9" font-size="14" fill="#222" text-anchor="end" textLength="79" lengthAdjust="spacingAndGlyphs">del <tspan font-weight="700">8 de junio</tspan></text>
<text x="1177.6" y="648.0" font-size="14" fill="#222" text-anchor="end" textLength="100" lengthAdjust="spacingAndGlyphs">a las 20:00 horas.</text>
</svg>
</body></html>
